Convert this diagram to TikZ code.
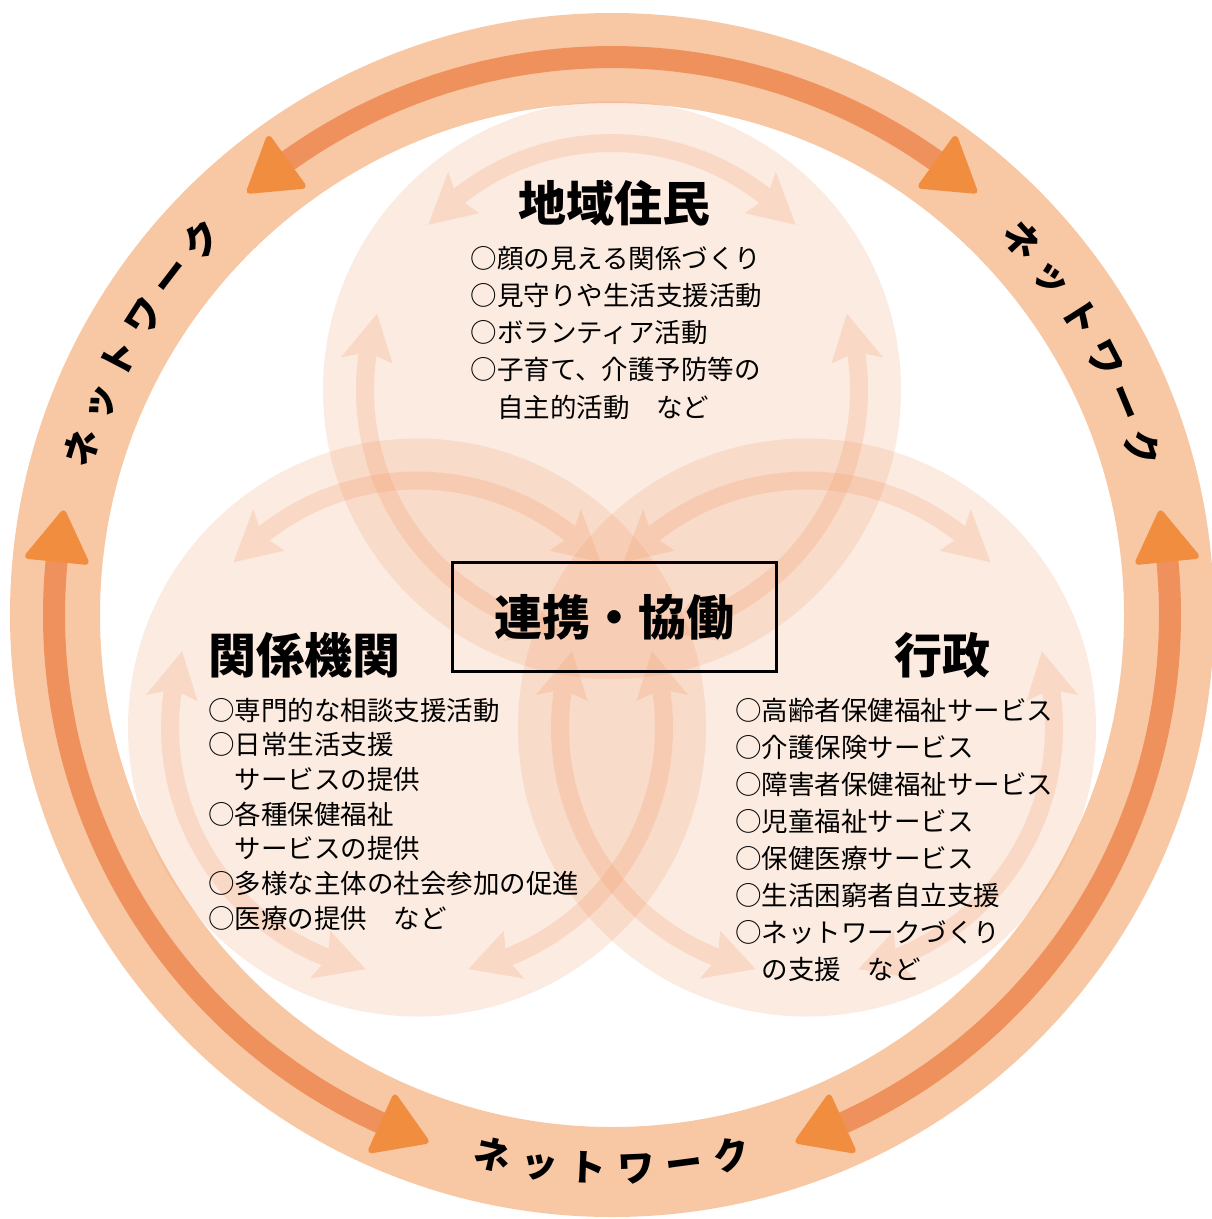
\documentclass[tikz,border=0pt]{standalone}
\usepackage{fontspec}
\newfontfamily\jp{Noto Sans CJK JP}
\usetikzlibrary{calc}
\definecolor{ringband}{RGB}{248,199,163}
\definecolor{ringline}{RGB}{239,145,92}
\definecolor{ringhead}{RGB}{241,141,63}
\definecolor{soft}{RGB}{240,150,100}

% outer double-headed arc centred at math angle #1 (scope origin = ring centre)
\newcommand\outerarrow[1]{%
  \pgfmathsetmacro\oaA{-(#1)+40.5}%
  \pgfmathsetmacro\oaB{-(#1)-40.5}%
  \pgfmathsetmacro\oaD{46/558*180/pi}%
  \draw[ringline, line width=22pt] (\oaA-0.6*\oaD:558) arc[start angle=\oaA-0.6*\oaD, end angle=\oaB+0.6*\oaD, radius=558];
  \filldraw[ringhead, line width=6pt, line join=round] (\oaA:558) -- (\oaA-\oaD:529) -- (\oaA-\oaD:587) -- cycle;
  \filldraw[ringhead, line width=6pt, line join=round] (\oaB:558) -- (\oaB+\oaD:529) -- (\oaB+\oaD:587) -- cycle;
}
% inner translucent double-headed arc centred at math angle #1 (scope origin = circle centre)
\newcommand\innerarrow[1]{%
  \pgfmathsetmacro\iaA{-(#1)+48}%
  \pgfmathsetmacro\iaB{-(#1)-48}%
  \pgfmathsetmacro\iaD{48/247*180/pi}%
  \begin{scope}[transparency group, opacity=0.22]
    \draw[soft, line width=18pt] (\iaA-0.8*\iaD:247) arc[start angle=\iaA-0.8*\iaD, end angle=\iaB+0.8*\iaD, radius=247];
    \fill[soft] (\iaA:247) -- (\iaA-\iaD:221) -- (\iaA-0.82*\iaD:247) -- (\iaA-\iaD:273) -- cycle;
    \fill[soft] (\iaB:247) -- (\iaB+\iaD:221) -- (\iaB+0.82*\iaD:247) -- (\iaB+\iaD:273) -- cycle;
  \end{scope}
}

\tikzset{
  listtxt/.style={anchor=west, inner sep=0pt, font=\jp\fontsize{26.5}{30}\selectfont, text height=23.3pt, text depth=3.2pt},
  headtxt/.style={inner sep=0pt, font=\jp\bfseries\fontsize{48}{52}\selectfont, text height=42.2pt, text depth=5.8pt},
  ringtxt/.style={inner sep=0pt, font=\jp\bfseries\fontsize{37}{40}\selectfont, text height=32.6pt, text depth=4.4pt},
  circ/.style={fill=soft, fill opacity=0.19},
}

\begin{document}
\begin{tikzpicture}[x=1pt,y=-1pt]
\useasboundingbox (0,0) rectangle (1211,1219);
\fill[white] (0,0) rectangle (1211,1219);
\coordinate (O) at (612,615);
\coordinate (CT) at (612,390);
\coordinate (CL) at (417,727.5);
\coordinate (CR) at (807,727.5);

% outer ring
\draw[ringband, line width=90pt] (O) circle[radius=557];
\begin{scope}[shift={(O)}]
  \outerarrow{90}
  \outerarrow{210}
  \outerarrow{330}
\end{scope}

% three circles
\fill[circ] (CT) circle[radius=289];
\fill[circ] (CL) circle[radius=289];
\fill[circ] (CR) circle[radius=289];

% inner arrows
\foreach \cc in {CT,CL,CR}{
  \begin{scope}[shift={(\cc)}]
    \innerarrow{90}
    \innerarrow{210}
    \innerarrow{330}
  \end{scope}
}

% ring labels
\begin{scope}[shift={(O)}]
  \foreach \ch [count=\i from 0] in {ネ,ッ,ト,ワ,ー,ク}{
    \pgfmathsetmacro\ang{162.5-5*\i}
    \node[ringtxt, rotate=\ang-90] (nl\i) at (-\ang:556) {\ch};
    \pgfmathsetmacro\angb{42.5-5*\i}
    \node[ringtxt, rotate=\angb-90] (nr\i) at (-\angb:556) {\ch};
    \pgfmathsetmacro\angc{257.5+5*\i}
    \node[ringtxt, rotate=\angc-270] (nb\i) at (-\angc:553) {\ch};
  }
\end{scope}

% headings
\node[headtxt] (hT) at (614,203) {地域住民};
\node[headtxt] (hL) at (304,655) {関係機関};
\node[headtxt] (hR) at (942.5,655) {行政};
\node[headtxt, draw, line width=2.7pt, minimum width=324pt, minimum height=108.5pt] (box) at (614.7,617) {連携・協働};

% lists
\foreach \t [count=\i] in {○顔の見える関係づくり,○見守りや生活支援活動,○ボランティア活動,○子育て、介護予防等の,　自主的活動　など}{
  \node[listtxt] (lt\i) at (470.5,{258+37.3*(\i-1)}) {\t};
}
\foreach \t [count=\i] in {○専門的な相談支援活動,○日常生活支援,　サービスの提供,○各種保健福祉,　サービスの提供,○多様な主体の社会参加の促進,○医療の提供　など}{
  \node[listtxt] (ll\i) at (208,{710+34.7*(\i-1)}) {\t};
}
\foreach \t [count=\i] in {○高齢者保健福祉サービス,○介護保険サービス,○障害者保健福祉サービス,○児童福祉サービス,○保健医療サービス,○生活困窮者自立支援,○ネットワークづくり,　の支援　など}{
  \node[listtxt] (lr\i) at (735,{710+37.1*(\i-1)}) {\t};
}
\end{tikzpicture}
\end{document}
